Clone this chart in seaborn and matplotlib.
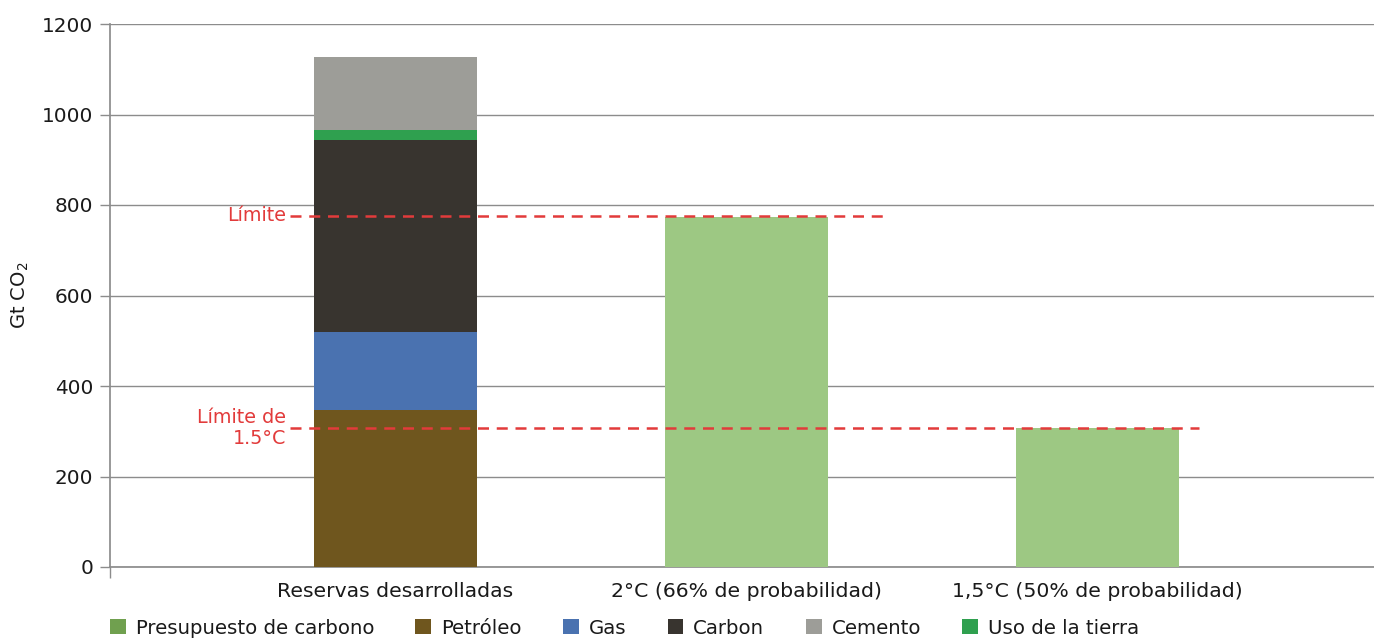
import matplotlib
matplotlib.use("Agg")
import matplotlib.pyplot as plt
from matplotlib.patches import Patch
from matplotlib.ticker import FixedLocator
import seaborn as sns
import pandas as pd
import numpy as np

# Emission categories and values (Gt CO2)
categories = ["Reservas desarrolladas", "2°C (66% de probabilidad)", "1,5°C (50% de probabilidad)"]
petroleo = [348, 0, 0]
gas = [171, 0, 0]
carbon = [424, 0, 0]
uso_tierra = [22, 0, 0]
cemento = [163, 0, 0]
presupuesto = [0, 773, 307]

limite_2c = 776
limite_15c = 307

yticks = [0, 200, 400, 600, 800, 1000, 1200]

colors = {
    "Presupuesto de carbono": "#9DC883",
    "Petróleo": "#6F561E",
    "Gas": "#4A72B0",
    "Carbon": "#38342F",
    "Cemento": "#9D9D98",
    "Uso de la tierra": "#2FA04F",
}
legend_colors = dict(colors)
legend_colors["Presupuesto de carbono"] = "#70A04F"

sns.set_theme(style="white")
plt.rcParams["font.family"] = ["DejaVu Sans"]

fig = plt.figure(figsize=(13.74, 6.41), dpi=100)
ax = fig.add_axes([110 / 1374, 74 / 641, 1 - 110 / 1374, 543 / 641])

# Stacked bar: draw cumulative totals from top layer down so lower layers overlay
layers = [("Petróleo", petroleo), ("Gas", gas), ("Carbon", carbon),
          ("Uso de la tierra", uso_tierra), ("Cemento", cemento)]
cum = np.cumsum([vals for _, vals in layers], axis=0)
bar_w = 0.464
for (name, _), tot in reversed(list(zip(layers, cum))):
    df = pd.DataFrame({"cat": categories, "val": tot})
    sns.barplot(data=df, x="cat", y="val", color=colors[name], width=bar_w,
                saturation=1, ax=ax, zorder=3)

df_b = pd.DataFrame({"cat": categories, "val": presupuesto})
sns.barplot(data=df_b, x="cat", y="val", color=colors["Presupuesto de carbono"],
            width=bar_w, saturation=1, ax=ax, zorder=3)
for p in ax.patches:
    p.set_linewidth(0)

# Limits
x_left, x_right = -0.812, 2.788
ax.set_xlim(x_left, x_right)
ax.set_ylim(0, 1200)

red = "#E23B3B"
ax.plot([-0.30, 1.403], [limite_2c, limite_2c], color=red, lw=1.8,
        dashes=(4.4, 3.1), zorder=4)
ax.plot([-0.30, 2.289], [limite_15c, limite_15c], color=red, lw=1.8,
        dashes=(4.4, 3.1), zorder=4)
ax.text(-0.31, limite_2c, "Límite", color=red, fontsize=13.8,
        ha="right", va="center")
ax.text(-0.31, limite_15c, "Límite de\n1.5°C", color=red, fontsize=13.8,
        ha="right", va="center", linespacing=1.1)

# Axes styling
grid_c = "#8C8C8C"
ax.set_yticks(yticks)
ax.yaxis.grid(True, color=grid_c, lw=1)
ax.set_axisbelow(True)
for s in ["top", "right"]:
    ax.spines[s].set_visible(False)
ax.spines["left"].set_color(grid_c)
ax.spines["bottom"].set_color(grid_c)
ax.tick_params(axis="y", length=7, color=grid_c, width=1, labelsize=14.4,
               pad=5, left=True, labelcolor="#1a1a1a")
ax.tick_params(axis="x", which="major", length=0, labelsize=14.7, pad=11,
               labelcolor="#1a1a1a")
ax.xaxis.set_minor_locator(FixedLocator([x_left]))
ax.tick_params(axis="x", which="minor", length=8, color=grid_c, width=1,
               bottom=True)
ax.set_xlabel("")
ax.set_ylabel("Gt CO$_2$", fontsize=14, color="#1a1a1a", labelpad=8)

# Legend
order = ["Presupuesto de carbono", "Petróleo", "Gas", "Carbon", "Cemento", "Uso de la tierra"]
handles = [Patch(facecolor=legend_colors[n], edgecolor="none", label=n) for n in order]
fig.legend(handles=handles, loc="center left", ncol=6, frameon=False,
           bbox_to_anchor=(102 / 1374, 1 - 628 / 641), fontsize=14.2,
           handlelength=0.8, handleheight=0.8, handletextpad=0.5,
           columnspacing=2.1, borderaxespad=0, labelcolor="#1a1a1a")

fig.savefig("out.png", dpi=100)
